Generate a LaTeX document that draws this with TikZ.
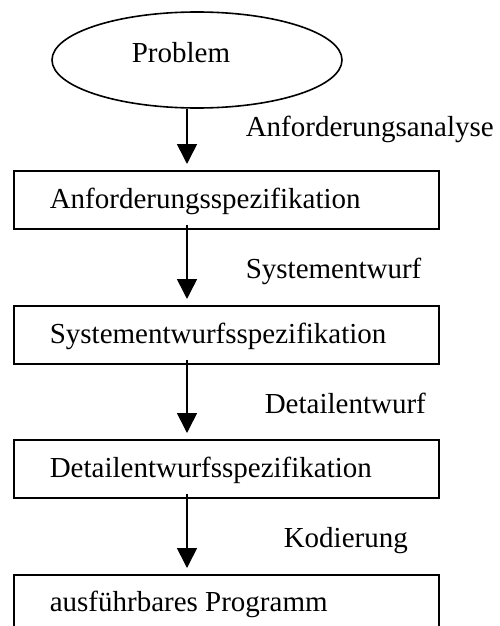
\documentclass[tikz,border=0pt]{standalone}
\usepackage{fontspec}
\setmainfont{Liberation Serif}
\usetikzlibrary{shapes.geometric,arrows.meta}
\begin{document}
\begin{tikzpicture}[x=1pt,y=-1pt,
  font=\fontsize{29}{34}\selectfont,
  line width=1.6pt,
  stepbox/.style={draw, rectangle, anchor=north west, minimum width=425pt,
    minimum height=58pt, inner sep=0pt},
  boxtext/.style={anchor=base west, inner sep=0pt},
  phase/.style={anchor=base west, inner sep=0pt},
  flow/.style={-{Triangle[width=20pt,length=20pt]}, shorten >=6pt, shorten <=-5pt}]
  \useasboundingbox (0,0) rectangle (499,626);
  \clip (0,0) rectangle (499,626);

  % x position of the vertical process arrows
  \coordinate (ax) at (187,0);

  % start: the problem
  \node[draw, ellipse, minimum width=290pt, minimum height=96pt, inner sep=0pt] (prob) at (197,60) {};
  \node[anchor=base, inner sep=0pt] (probtext) at (181,63) {Problem};

  % result documents of each phase
  \node[stepbox] (b1) at (13,170) {};
  \node[stepbox] (b2) at (13,305) {};
  \node[stepbox] (b3) at (13,439) {};
  \node[stepbox] (b4) at (13,574) {};

  \node[boxtext] (t1) at (49,208) {Anforderungsspezifikation};
  \node[boxtext] (t2) at (49,343) {Systementwurfsspezifikation};
  \node[boxtext] (t3) at (49,477) {Detailentwurfsspezifikation};
  \node[boxtext] (t4) at (49,611) {ausführbares Programm};

  % phase transitions
  \draw[flow, shorten <=0pt] (prob.south -| ax) -- (b1.north -| ax);
  \draw[flow] (b1.south -| ax) -- (b2.north -| ax);
  \draw[flow] (b2.south -| ax) -- (b3.north -| ax);
  \draw[flow] (b3.south -| ax) -- (b4.north -| ax);

  % phase names
  \node[phase] (p1) at (245,136) {Anforderungsanalyse};
  \node[phase] (p2) at (245,278) {Systementwurf};
  \node[phase] (p3) at (264,413) {Detailentwurf};
  \node[phase] (p4) at (283,547) {Kodierung};
\end{tikzpicture}
\end{document}
